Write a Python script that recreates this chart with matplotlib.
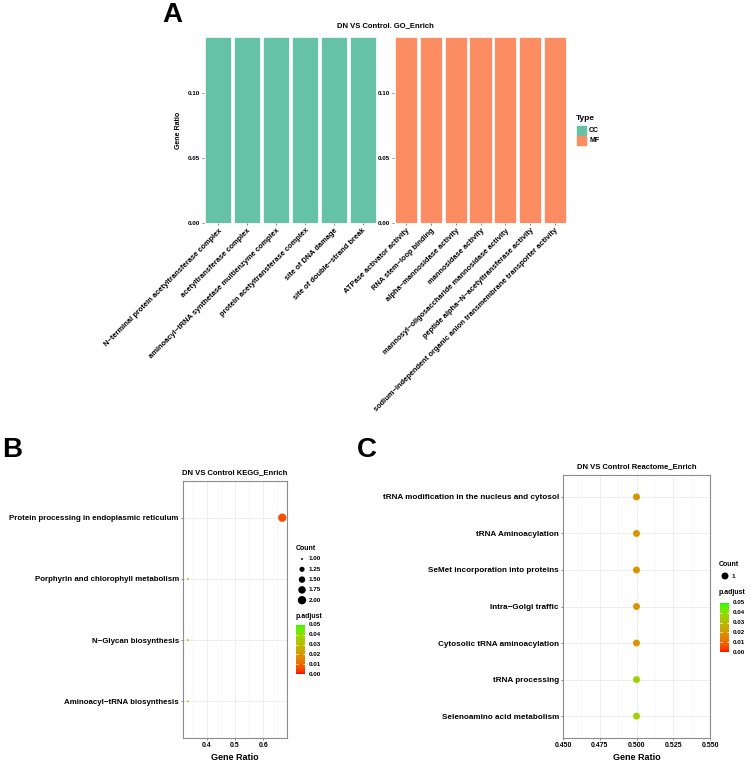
#!/usr/bin/env python3
"""
DN vs Control enrichment figure: GO bar chart (A), KEGG dot plot (B), Reactome dot plot (C)
"""

import numpy as np
import matplotlib
matplotlib.use("Agg")
import matplotlib.pyplot as plt
from matplotlib.colors import LinearSegmentedColormap

plt.rcParams['font.family'] = ['Liberation Sans', 'DejaVu Sans']

# ---- data ----
cc_terms = ["N\u2212terminal protein acetyltransferase complex",
            "acetyltransferase complex",
            "aminoacyl\u2212tRNA synthetase multienzyme complex",
            "protein acetyltransferase complex",
            "site of DNA damage",
            "site of double\u2212strand break"]
cc_ratio = [0.143, 0.143, 0.143, 0.143, 0.143, 0.143]

mf_terms = ["ATPase activator activity",
            "RNA stem\u2212loop binding",
            "alpha\u2212mannosidase activity",
            "mannosidase activity",
            "mannosyl\u2212oligosaccharide mannosidase activity",
            "peptide alpha\u2212N\u2212acetyltransferase activity",
            "sodium\u2212independent organic anion transmembrane transporter activity"]
mf_ratio = [0.143, 0.143, 0.143, 0.143, 0.143, 0.143, 0.143]

kegg_terms = ["Protein processing in endoplasmic reticulum",
              "Porphyrin and chlorophyll metabolism",
              "N\u2212Glycan biosynthesis",
              "Aminoacyl\u2212tRNA biosynthesis"]
kegg_ratio = [0.667, 0.333, 0.333, 0.333]
kegg_count = [2, 1, 1, 1]
kegg_padj = [0.006, 0.028, 0.028, 0.028]

reactome_terms = ["tRNA modification in the nucleus and cytosol",
                  "tRNA Aminoacylation",
                  "SeMet incorporation into proteins",
                  "Intra\u2212Golgi traffic",
                  "Cytosolic tRNA aminoacylation",
                  "tRNA processing",
                  "Selenoamino acid metabolism"]
reactome_ratio = [0.5, 0.5, 0.5, 0.5, 0.5, 0.5, 0.5]
reactome_count = [1, 1, 1, 1, 1, 1, 1]
reactome_padj = [0.019, 0.019, 0.019, 0.019, 0.019, 0.036, 0.036]

count_breaks = [1.00, 1.25, 1.50, 1.75, 2.00]
padj_breaks = [0.00, 0.01, 0.02, 0.03, 0.04, 0.05]

W, H = 750, 764
BOLD = 'bold'


def box(x0, y0, x1, y1):
    """pixel box -> figure fraction"""
    return [x0 / W, 1 - y1 / H, (x1 - x0) / W, (y1 - y0) / H]


# red -> green gradient interpolated in Lab (like ggplot)
M = np.array([[0.4124, 0.3576, 0.1805], [0.2126, 0.7152, 0.0722], [0.0193, 0.1192, 0.9505]])
WHITE = np.array([0.95047, 1.0, 1.08883])


def srgb_to_lab(c):
    c = np.asarray(c, float)
    lin = np.where(c <= 0.04045, c / 12.92, ((c + 0.055) / 1.055) ** 2.4)
    xyz = M @ lin / WHITE
    f = np.where(xyz > 0.008856, np.cbrt(xyz), 7.787 * xyz + 16 / 116)
    return np.array([116 * f[1] - 16, 500 * (f[0] - f[1]), 200 * (f[1] - f[2])])


def lab_to_srgb(lab):
    fy = (lab[0] + 16) / 116
    f = np.array([fy + lab[1] / 500, fy, fy - lab[2] / 200])
    xyz = np.where(f > 0.2069, f ** 3, (f - 16 / 116) / 7.787) * WHITE
    lin = np.clip(np.linalg.inv(M) @ xyz, 0, 1)
    return np.clip(np.where(lin <= 0.0031308, 12.92 * lin, 1.055 * lin ** (1 / 2.4) - 0.055), 0, 1)


lab_lo, lab_hi = srgb_to_lab([1, 0, 0]), srgb_to_lab([0, 1, 0])
cmap = LinearSegmentedColormap.from_list(
    'padj', [lab_to_srgb(lab_lo + t * (lab_hi - lab_lo)) for t in np.linspace(0, 1, 64)], N=256)


def count_size(c, lo, hi):
    # area scale, diameter 1.4..6 pt
    if hi == lo:
        d = 5.0
    else:
        d = 1.4 + 4.6 * np.sqrt((c - lo) / (hi - lo))
    return d ** 2


fig = plt.figure(figsize=(W / 100, H / 100), dpi=100)
fig.patch.set_facecolor('white')

# ---- A: GO bars (two facets) ----
ax_cc = fig.add_axes(box(204, 37, 377, 223))
ax_mf = fig.add_axes(box(394, 37, 567, 223))
for ax, terms, ratio, color in [(ax_cc, cc_terms, cc_ratio, '#66C2A5'),
                                (ax_mf, mf_terms, mf_ratio, '#FC8D62')]:
    x = np.arange(len(terms))
    ax.bar(x, ratio, width=0.9, color=color, edgecolor='white', linewidth=0.5)
    ax.set_xlim(-0.5, len(terms) - 0.5)
    ax.set_ylim(0, 0.143)
    ax.set_yticks([0, 0.05, 0.10])
    ax.set_yticklabels(['0.00', '0.05', '0.10'], fontsize=4.5, fontweight=BOLD)
    ax.set_xticks(x)
    ax.set_xticklabels(terms, rotation=45, ha='right', rotation_mode='anchor',
                       fontsize=5.4, fontweight=BOLD)
    ax.tick_params(axis='both', length=1.5, width=0.5, color='#555555', pad=1.5)
    for s in ax.spines.values():
        s.set_visible(False)
ax_cc.set_ylabel('Gene Ratio', fontsize=5, fontweight=BOLD, labelpad=4)

# ---- B / C: dot plots ----
def dot_panel(ax, terms, ratio, count, padj, title, xlim, major, minor, fmt, fs):
    y = np.arange(len(terms))
    lo, hi = min(count), max(count)
    ax.scatter(ratio, y, s=[count_size(c, lo, hi) for c in count], c=padj,
               cmap=cmap, vmin=0, vmax=0.05, edgecolors='none', zorder=3)
    ax.set_ylim(len(terms) - 0.4, -0.6)
    ax.set_xlim(*xlim)
    ax.set_yticks(y)
    ax.set_yticklabels(terms, fontsize=fs, fontweight=BOLD)
    ax.set_xticks(major)
    ax.set_xticklabels([fmt.format(v) for v in major], fontsize=5, fontweight=BOLD)
    ax.set_xticks(minor, minor=True)
    ax.grid(which='major', color='#ebebeb', linewidth=0.6)
    ax.grid(which='minor', axis='x', color='#f3f3f3', linewidth=0.4)
    ax.set_axisbelow(True)
    ax.tick_params(which='major', length=1.5, width=0.5, color='#555555', pad=1.5)
    ax.tick_params(which='minor', length=0)
    for s in ax.spines.values():
        s.set_color('#8c8c8c')
        s.set_linewidth(0.8)
    ax.set_xlabel('Gene Ratio', fontsize=6.5, fontweight=BOLD, labelpad=3)
    ax.set_title(title, fontsize=5.5, fontweight=BOLD, pad=5)


ax_b = fig.add_axes(box(183, 481, 287, 738))
pad = 0.05 * (max(kegg_ratio) - min(kegg_ratio))
dot_panel(ax_b, kegg_terms, kegg_ratio, kegg_count, kegg_padj, 'DN VS Control KEGG_Enrich',
          (min(kegg_ratio) - pad, max(kegg_ratio) + pad),
          [0.4, 0.5, 0.6], [0.35, 0.45, 0.55, 0.65], '{:.1f}', 5.7)

ax_c = fig.add_axes(box(563, 475, 710, 738))
dot_panel(ax_c, reactome_terms, reactome_ratio, reactome_count, reactome_padj,
          'DN VS Control Reactome_Enrich', (0.45, 0.55),
          [0.450, 0.475, 0.500, 0.525, 0.550], [0.4625, 0.4875, 0.5125, 0.5375], '{:.3f}', 5.9)

# ---- overlay: letters and legends in pixel coords ----
ov = fig.add_axes([0, 0, 1, 1], zorder=10)
ov.set_xlim(0, W)
ov.set_ylim(H, 0)
ov.axis('off')
ov.patch.set_alpha(0)

ov.text(385, 26, 'DN VS Control. GO_Enrich', fontsize=5.5, fontweight=BOLD, ha='center', va='center')
for letter, lx, ly in [('A', 172, 15), ('B', 12, 450), ('C', 367, 450)]:
    ov.text(lx, ly, letter, fontsize=20, fontweight=BOLD, ha='center', va='center')

# Type legend
ov.text(576, 119, 'Type', fontsize=6, fontweight=BOLD, va='center')
for i, (lab, col) in enumerate([('CC', '#66C2A5'), ('MF', '#FC8D62')]):
    yy = 130 + i * 10.5
    ov.add_patch(plt.Rectangle((577, yy - 4.5), 9, 9, color=col))
    ov.text(589, yy, lab, fontsize=5, fontweight=BOLD, va='center')


def colorbar(x0, y0, x1, y1, lab_x):
    cax = fig.add_axes(box(x0, y0, x1, y1), zorder=11)
    cax.imshow(np.linspace(0.05, 0, 256)[:, None], cmap=cmap, vmin=0, vmax=0.05,
               aspect='auto', extent=[0, 1, 0, 0.05], interpolation='bilinear')
    cax.hlines(padj_breaks[1:-1], 0, 0.2, color='white', linewidth=0.6)
    cax.hlines(padj_breaks[1:-1], 0.8, 1, color='white', linewidth=0.6)
    cax.axis('off')
    for v in padj_breaks:
        yy = y1 - (y1 - y0) * v / 0.05
        ov.text(lab_x, yy, '{:.2f}'.format(v), fontsize=4.5, fontweight=BOLD, va='center')


# B legend
ov.text(296, 548, 'Count', fontsize=5, fontweight=BOLD, va='center')
for i, c in enumerate(count_breaks):
    yy = 559 + i * 10.3
    ov.scatter([302], [yy], s=count_size(c, min(kegg_count), max(kegg_count)), color='black',
               edgecolors='none')
    ov.text(309, yy, '{:.2f}'.format(c), fontsize=4.5, fontweight=BOLD, va='center')
ov.text(296, 616, 'p.adjust', fontsize=5, fontweight=BOLD, va='center')
colorbar(296, 625, 305, 674, 309)

# C legend
ov.text(719, 564, 'Count', fontsize=5, fontweight=BOLD, va='center')
ov.scatter([725], [576], s=count_size(1, min(reactome_count), max(reactome_count)),
           color='black', edgecolors='none')
ov.text(732, 576, '1', fontsize=4.5, fontweight=BOLD, va='center')
ov.text(719, 593, 'p.adjust', fontsize=5, fontweight=BOLD, va='center')
colorbar(720, 603, 729, 652, 733)

plt.savefig('out.png', dpi=100, facecolor='white')
plt.close()
